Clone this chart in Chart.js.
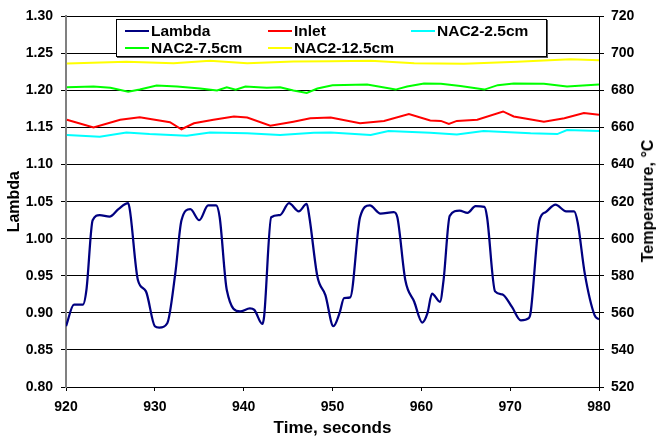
<!DOCTYPE html>
<html lang="en">
<head>
<meta charset="UTF-8">
<title>Lambda and temperature vs time</title>
<script src="https://cdn.jsdelivr.net/npm/chart.js"></script>
<style>
  html,body{margin:0;padding:0;background:#fff;}
  body{font-family:"Liberation Sans", Arial, sans-serif;}
  #wrap{position:relative;width:656px;height:437px;}
  #legend{
    position:absolute;left:116px;top:19px;width:431px;height:38px;
    box-sizing:border-box;border:1px solid #000;background:#fff;
    box-shadow:1px 1px 0 #555;
  }
  .item{position:absolute;height:18px;font-weight:bold;font-size:15.5px;line-height:18px;color:#000;white-space:nowrap;}
  .item i{position:absolute;left:0;top:8px;width:24px;height:2px;}
  .item span{position:absolute;left:26px;top:0;}
  /* right axis title reads bottom-to-top like the left one */
  #rtitle{
    position:absolute;left:648px;top:201px;
    transform:translate(-50%,-50%) rotate(-90deg);
    font-weight:bold;font-size:16px;line-height:16px;white-space:nowrap;color:#000;
  }
</style>
</head>
<body>
<div id="wrap">
  <canvas id="chart" width="656" height="437"></canvas>
  <div id="legend"></div>
  <div id="rtitle">Temperature, °C</div>
</div>

<script>
/* ==== data ==== */
const lambdaTime = [920.0,920.9,921.9,922.3,923.0,923.8,924.9,925.9,927.0,927.2,928.1,929.0,930.0,930.5,931.4,932.3,933.0,934.0,935.0,936.0,936.9,937.3,938.1,939.6,940.7,941.2,942.1,942.3,943.1,944.1,945.1,946.2,947.1,947.4,948.3,949.2,950.1,950.8,951.3,952.0,953.1,954.2,955.4,956.9,957.3,958.2,959.2,960.1,960.7,961.2,962.1,962.5,963.2,964.3,965.2,966.1,967.1,967.4,968.3,969.1,970.2,971.2,972.1,972.3,973.3,974.0,975.1,976.3,977.2,977.6,978.4,979.5,980.0];
const lambdaVals = [0.882,0.911,0.911,0.931,1.025,1.032,1.030,1.040,1.048,1.038,0.944,0.929,0.882,0.880,0.886,0.953,1.025,1.040,1.025,1.045,1.045,1.029,0.931,0.902,0.906,0.904,0.885,0.895,1.029,1.032,1.048,1.037,1.047,1.029,0.949,0.924,0.882,0.900,0.920,0.921,1.029,1.045,1.034,1.036,1.029,0.944,0.915,0.887,0.900,0.926,0.915,0.944,1.031,1.038,1.035,1.044,1.043,1.029,0.929,0.925,0.908,0.890,0.893,0.900,1.025,1.036,1.046,1.037,1.037,1.022,0.953,0.897,0.891];

const inletTime = [920.1,923.1,926.1,928.3,931.7,933.0,934.4,936.6,938.9,940.4,943.0,945.6,947.5,949.8,953.1,955.8,958.6,961.0,962.2,963.1,964.0,966.3,969.2,970.4,973.8,976.1,978.3,980.0];
const inletVals = [664.2,660.0,664.2,665.6,662.9,659.1,662.3,664.2,666.0,665.4,661.0,663.2,665.0,665.4,662.3,663.6,667.3,663.8,663.6,662.0,663.6,664.2,668.7,666.0,663.2,665.0,667.8,666.9];

const nac25Time = [920.1,923.8,926.8,929.4,933.6,936.2,940.4,944.1,947.9,949.8,954.3,956.3,961.0,964.0,967.0,972.3,975.3,976.4,980.0];
const nac25Vals = [656.0,655.1,657.4,656.5,655.6,657.4,656.9,656.0,657.2,657.4,656.0,658.2,657.2,656.3,658.2,656.9,656.5,658.7,658.2];

const nac75Time = [920.1,923.1,925.0,927.0,928.3,930.2,932.5,935.1,937.0,938.1,939.1,940.2,942.6,944.1,945.6,947.1,948.3,950.0,953.9,957.1,958.4,960.3,962.2,964.4,967.1,968.6,970.4,973.8,976.4,980.0];
const nac75Vals = [681.8,682.2,681.5,679.3,680.5,682.7,682.2,681.1,680.0,681.8,680.4,682.2,681.5,681.8,680.0,678.7,681.1,682.8,683.3,680.5,682.2,683.8,683.6,682.4,680.5,682.9,683.8,683.6,682.2,683.3];

const nac125Time = [920.1,926.8,932.1,936.2,940.4,945.6,949.8,954.3,959.2,964.8,970.8,976.8,980.0];
const nac125Vals = [694.6,695.5,694.7,696.0,694.7,695.7,695.8,696.0,694.7,694.5,695.5,696.9,696.4];

const xTicks = [920,930,940,950,960,970,980];

/* ==== helpers ==== */
const pts = (t, v) => t.map((x, i) => ({x, y: v[i]}));
const FONT = '"Liberation Sans", Arial, sans-serif';
Chart.defaults.font.family = FONT;
Chart.defaults.color = '#000';

const series = [
  {label:'Lambda',      t:lambdaTime, v:lambdaVals, color:'#000080', axis:'y',  width:2.25, smooth:true},
  {label:'Inlet',       t:inletTime,  v:inletVals,  color:'#FF0000', axis:'y1', width:2},
  {label:'NAC2-2.5cm',  t:nac25Time,  v:nac25Vals,  color:'#00FFFF', axis:'y1', width:2},
  {label:'NAC2-7.5cm',  t:nac75Time,  v:nac75Vals,  color:'#00FF00', axis:'y1', width:2},
  {label:'NAC2-12.5cm', t:nac125Time, v:nac125Vals, color:'#FFFF00', axis:'y1', width:2}
];

const chart = new Chart(document.getElementById('chart'), {
  type:'line',
  data:{
    datasets: series.map(s => ({
      label:s.label,
      data:pts(s.t, s.v),
      yAxisID:s.axis,
      borderColor:s.color,
      backgroundColor:s.color,
      borderWidth:s.width,
      pointRadius:0,
      fill:false,
      cubicInterpolationMode: s.smooth ? 'monotone' : 'default',
      tension:0
    }))
  },
  options:{
    responsive:false,
    animation:false,
    devicePixelRatio:1,
    layout:{padding:{top:15,left:0,right:0,bottom:0}},
    plugins:{legend:{display:false}, tooltip:{enabled:false}},
    scales:{
      x:{
        type:'linear', min:920, max:980,
        afterBuildTicks: s => { s.ticks = xTicks.map(v => ({value:v})); },
        ticks:{font:{size:14, weight:'bold'}, padding:8, maxRotation:0},
        grid:{drawOnChartArea:false, drawTicks:true, tickLength:4, color:'#000'},
        border:{color:'#000', width:1},
        title:{display:true, text:'Time, seconds', font:{size:17, weight:'bold', lineHeight:1}, padding:{top:0,bottom:0.5}},
        afterFit: s => { s.height = 50; }
      },
      y:{
        position:'left', min:0.8, max:1.3,
        ticks:{stepSize:0.05, font:{size:14, weight:'bold'}, padding:8, callback:v => Number(v).toFixed(2)},
        grid:{color:'#000', lineWidth:1, tickLength:5},
        border:{color:'#808080', width:2},
        title:{display:true, text:'Lambda', font:{size:16, weight:'bold', lineHeight:1}, padding:{top:7,bottom:0}},
        afterFit: s => { s.width = 66; }
      },
      y1:{
        position:'right', min:520, max:720,
        ticks:{stepSize:20, font:{size:14, weight:'bold'}, padding:7},
        grid:{drawOnChartArea:false, color:'#000', tickLength:5},
        border:{color:'#000', width:1},
        title:{display:false},
        afterFit: s => { s.width = 57; }
      }
    }
  }
});

/* ==== legend box (html) ==== */
const cols = [8, 151, 294];
const rows = [2, 19];
const legend = document.getElementById('legend');
chart.data.datasets.forEach((ds, i) => {
  const d = document.createElement('div');
  d.className = 'item';
  d.style.left = cols[i % 3] + 'px';
  d.style.top = rows[Math.floor(i / 3)] + 'px';
  d.innerHTML = `<i style="background:${ds.borderColor}"></i><span>${ds.label}</span>`;
  legend.appendChild(d);
});
</script>
</body>
</html>
